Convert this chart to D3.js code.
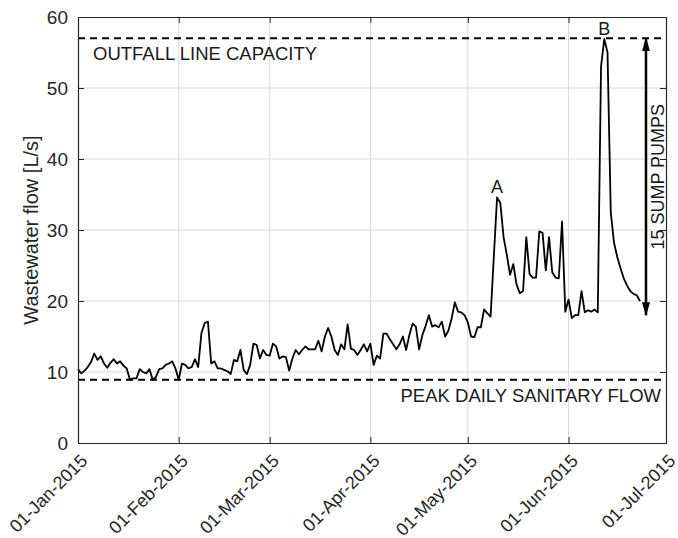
<!DOCTYPE html>
<html>
<head>
<meta charset="utf-8">
<script src="https://cdn.jsdelivr.net/npm/d3@7"></script>
<style>
  body { margin: 0; background: #fff; }
  svg { display: block; font-family: "Liberation Sans", Arial, sans-serif; }
</style>
</head>
<body>
<svg id="chart" width="678" height="538"></svg>
<script>
// Daily wastewater flow [L/s], one value per day starting 01-Jan-2015
const startDate = "2015-01-01";
const flowJan = [10.4, 9.8, 10.2, 10.7, 11.4, 12.6, 11.7, 12.2, 11.2, 10.6, 11.3, 11.8, 11.2, 11.5, 10.9, 10.5,
  8.9, 9.1, 9.1, 10.4, 10.0, 9.8, 10.4, 8.9, 9.3, 10.4, 10.5, 11.0, 11.2, 11.5, 10.5];
const flowFeb = [8.9, 11.2, 11.0, 10.5, 10.7, 11.8, 10.7, 15.5, 16.9, 17.1, 11.2, 11.5, 10.5, 10.5, 10.3, 10.1,
  9.7, 11.7, 11.5, 13.1, 10.3, 9.7, 11.0, 14.0, 13.8, 11.9, 13.1, 12.4];
const flowMar = [12.3, 14.0, 13.6, 11.9, 12.2, 12.1, 10.2, 11.9, 13.1, 12.5, 13.1, 13.6, 13.2, 13.2, 13.2, 14.4,
  12.9, 15.0, 16.2, 15.0, 13.1, 12.4, 13.9, 13.2, 16.7, 13.3, 13.1, 12.4, 13.1, 13.9, 12.9];
const flowApr = [14.0, 11.0, 12.3, 11.9, 15.4, 15.4, 14.6, 13.9, 13.2, 13.9, 15.0, 13.1, 15.2, 16.8, 16.4, 13.2,
  15.2, 16.5, 18.0, 16.4, 16.6, 16.3, 17.1, 15.0, 15.8, 17.5, 19.8, 18.5, 18.4, 18.0];
const flowMay = [17.0, 15.0, 14.9, 16.3, 16.3, 18.8, 18.3, 17.8, 26.2, 34.6, 33.8, 29.0, 26.5, 23.7, 25.2, 22.3,
  21.1, 21.4, 29.0, 23.8, 23.3, 23.3, 29.8, 29.6, 24.3, 29.0, 24.0, 23.3, 23.2, 31.2, 18.5];
const flowJun = [20.2, 17.6, 18.0, 18.0, 21.4, 18.4, 18.7, 18.5, 18.8, 18.4, 53.0, 56.9, 55.0, 32.5, 28.2, 26.2,
  24.6, 23.2, 22.2, 21.4, 21.0, 20.8, 20.0];

const yTicks = [0, 10, 20, 30, 40, 50, 60];
const xTickDates = ["2015-01-01", "2015-02-01", "2015-03-01", "2015-04-01", "2015-05-01", "2015-06-01", "2015-07-01"];

// Reference levels and annotations
const outfallCapacity = 57;
const peakSanitaryFlow = 8.9;
const pumpRange = [18, 57];
const peakLabels = ["A", "B"];
const peakDayIndex = [129, 162];

const yLabel = "Wastewater flow [L/s]";
const outfallText = "OUTFALL LINE CAPACITY";
const sanitaryText = "PEAK DAILY SANITARY FLOW";
const pumpText = "15 SUMP PUMPS";

const parse = d3.timeParse("%Y-%m-%d");
const fmt = d3.timeFormat("%d-%b-%Y");
const t0 = parse(startDate);
const flow = [].concat(flowJan, flowFeb, flowMar, flowApr, flowMay, flowJun);
const series = flow.map((v, i) => ({ date: d3.timeDay.offset(t0, i), value: v }));
const tickDates = xTickDates.map(parse);

const svg = d3.select("#chart");
const margin = { left: 78, top: 17, right: 12, bottom: 95 };
const W = 678, H = 538;

const x = d3.scaleTime()
  .domain([tickDates[0], tickDates[tickDates.length - 1]])
  .range([margin.left, W - margin.right]);
const y = d3.scaleLinear().domain([0, 60]).range([H - margin.bottom, margin.top]);

const [x0, x1] = x.range();
const [y0, y1] = y.range();
const axisColor = "#262626";
const gridColor = "#d9d9d9";

// grid
const grid = svg.append("g");
grid.selectAll(".gy").data(yTicks.slice(1, -1)).join("line")
  .attr("x1", x0).attr("x2", x1)
  .attr("y1", d => y(d)).attr("y2", d => y(d))
  .attr("stroke", gridColor).attr("stroke-width", 1);
grid.selectAll(".gx").data(tickDates.slice(1, -1)).join("line")
  .attr("x1", d => x(d)).attr("x2", d => x(d))
  .attr("y1", y1).attr("y2", y0)
  .attr("stroke", gridColor).attr("stroke-width", 1);

// reference dashed lines
[outfallCapacity, peakSanitaryFlow].forEach(v => {
  svg.append("line")
    .attr("x1", x0).attr("x2", x1)
    .attr("y1", y(v)).attr("y2", y(v))
    .attr("stroke", "#000").attr("stroke-width", 2)
    .attr("stroke-dasharray", "7,5");
});

// flow line
svg.append("path")
  .datum(series)
  .attr("fill", "none")
  .attr("stroke", "#000")
  .attr("stroke-width", 1.8)
  .attr("stroke-linejoin", "round")
  .attr("d", d3.line().x(d => x(d.date)).y(d => y(d.value)));

// axes (ticks pointing inward)
const yAxisL = svg.append("g").attr("transform", `translate(${x0},0)`)
  .call(d3.axisLeft(y).tickValues(yTicks).tickSizeInner(-6).tickSizeOuter(0).tickPadding(10));
const yAxisR = svg.append("g").attr("transform", `translate(${x1},0)`)
  .call(d3.axisRight(y).tickValues(yTicks).tickSizeInner(-6).tickSizeOuter(0).tickFormat(""));
const xAxisB = svg.append("g").attr("transform", `translate(0,${y0})`)
  .call(d3.axisBottom(x).tickValues(tickDates).tickSizeInner(-6).tickSizeOuter(0).tickFormat(fmt));
const xAxisT = svg.append("g").attr("transform", `translate(0,${y1})`)
  .call(d3.axisTop(x).tickValues(tickDates).tickSizeInner(-6).tickSizeOuter(0).tickFormat(""));

[yAxisL, yAxisR, xAxisB, xAxisT].forEach(g => {
  g.select(".domain").attr("stroke", axisColor).attr("stroke-width", 1.2);
  g.selectAll(".tick line").attr("stroke", axisColor).attr("stroke-width", 1);
  g.selectAll("text").attr("fill", axisColor).attr("font-family", "Liberation Sans, Arial, sans-serif");
});
yAxisL.selectAll("text").attr("font-size", 19);
xAxisB.selectAll("text")
  .attr("font-size", 18)
  .attr("text-anchor", "end")
  .attr("x", 0).attr("y", 0).attr("dy", null)
  .attr("transform", "translate(10,19) rotate(-45)");

// y label
svg.append("text")
  .attr("transform", `translate(38,${(y0 + y1) / 2}) rotate(-90)`)
  .attr("text-anchor", "middle")
  .attr("font-size", 20)
  .attr("fill", axisColor)
  .text(yLabel);

// reference line labels
svg.append("text")
  .attr("x", x0 + 15).attr("y", y(outfallCapacity) + 22)
  .attr("font-size", 18.5).attr("fill", "#1a1a1a")
  .text(outfallText);
svg.append("text")
  .attr("x", x1 - 5).attr("y", y(peakSanitaryFlow) + 22)
  .attr("text-anchor", "end")
  .attr("font-size", 18.5).attr("fill", "#1a1a1a")
  .text(sanitaryText);

// peak labels
peakLabels.forEach((lab, k) => {
  const d = series[peakDayIndex[k]];
  svg.append("text")
    .attr("x", x(d.date)).attr("y", y(d.value) - 4)
    .attr("text-anchor", "middle")
    .attr("font-size", 18).attr("fill", "#1a1a1a")
    .text(lab);
});

// pump capacity arrow
const defs = svg.append("defs");
["start", "end"].forEach(k => {
  defs.append("marker")
    .attr("id", "arrow-" + k)
    .attr("viewBox", "0 0 14 8")
    .attr("refX", 13).attr("refY", 4)
    .attr("markerWidth", 14).attr("markerHeight", 8)
    .attr("markerUnits", "userSpaceOnUse")
    .attr("orient", k === "start" ? "auto-start-reverse" : "auto")
    .append("path").attr("d", "M0,0 L14,4 L0,8 Z").attr("fill", "#000");
});
const arrowX = 646;
svg.append("line")
  .attr("x1", arrowX).attr("x2", arrowX)
  .attr("y1", y(pumpRange[1])).attr("y2", y(pumpRange[0]))
  .attr("stroke", "#000").attr("stroke-width", 2.5)
  .attr("marker-start", "url(#arrow-start)")
  .attr("marker-end", "url(#arrow-end)");
svg.append("text")
  .attr("transform", `translate(664,${(y(pumpRange[0]) + y(pumpRange[1])) / 2}) rotate(-90)`)
  .attr("text-anchor", "middle")
  .attr("font-size", 18).attr("fill", "#1a1a1a")
  .text(pumpText);
</script>
</body>
</html>
